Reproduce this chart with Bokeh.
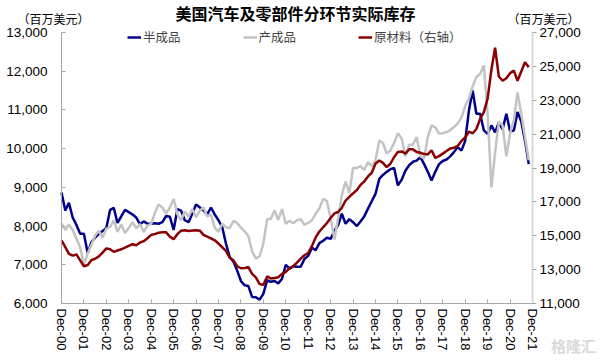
import pandas as pd
from bokeh.plotting import figure
from bokeh.models import (Range1d, LinearAxis, FixedTicker, NumeralTickFormatter,
                          Label, Legend, LegendItem)
from bokeh.embed import file_html
from bokeh.resources import INLINE

# ---------------- data (bi-monthly, from Dec-2000) ----------------
start_month = "2000-12-01"
wip = [  # 半成品 (left axis, million USD)
    8870, 8400, 8600, 8220, 8030, 7800,
    7800, 7300, 7580, 7700, 7800, 7870,
    7950, 8420, 8470, 8080, 8250, 8420,
    8360, 8300, 8220, 8050, 8120, 8060,
    8060, 8070, 8060, 8100, 8260, 8240,
    7900, 8440, 8400, 8150, 8100, 8320,
    8560, 8480, 8400, 8300, 8480, 8300,
    8150, 7970, 7550, 7200, 7080, 6850,
    6580, 6470, 6450, 6170, 6160, 6100,
    6250, 6600, 6560, 6580, 6520, 6640,
    7000, 6900, 6960, 6950, 6950, 7150,
    7230, 7440, 7380, 7560, 7620, 7700,
    7670, 7880, 8020, 8320, 8060, 8180,
    8100, 8000, 8120, 8250, 8450, 8640,
    8830, 9220, 9320, 9400, 9470, 9500,
    9050, 9200, 9430, 9570, 9660, 9690,
    9780, 9600, 9400, 9180, 9400, 9600,
    9680, 9720, 9800, 9910, 10040, 9950,
    10200, 11000, 11500, 10900, 10900, 10470,
    10380, 10600, 10420, 10680, 10500, 10900,
    10450, 10470, 10950, 10700, 10200, 9600,
]
finished = [  # 产成品 (left axis)
    8060, 7900, 8040, 7900, 7680, 7450,
    7000, 7300, 7510, 7750, 7880, 7700,
    7930, 7980, 8145, 7850, 8040, 7820,
    7950, 8100, 7940, 8050, 7850, 8010,
    8060, 8350, 8560, 8480, 8320, 8480,
    8700, 8300, 8150, 8380, 8240, 8440,
    8230, 8400, 8480, 8250, 8300, 7960,
    7850, 8060, 7970, 7950, 8130, 8080,
    7960, 7860, 7740, 7350, 7160, 7220,
    7550, 8180, 8180, 8400, 8160, 8440,
    8060, 8140, 8070, 8150, 8180, 8030,
    8080, 8150, 8320, 8460, 8700, 8650,
    8200, 7650, 8200, 8800, 9150, 8850,
    9500, 9500, 9550, 9450, 9650, 9550,
    9700, 10210, 10150, 9880, 9950, 10150,
    10400, 10260, 9800, 10100, 10100, 10300,
    9800, 9750, 10300, 10600, 10550, 10390,
    10400, 10430, 10480, 10560, 10650, 10800,
    11100, 11300, 11600, 11850, 11930, 12150,
    10900, 9000, 9900, 10700, 10600, 9800,
    10400, 10750, 11450, 10900, 10300, 9700,
]
raw = [  # 原材料 (right axis)
    14720, 14330, 13930, 13830, 13900, 13550,
    13200, 13270, 13560, 13640, 13780, 14000,
    14250, 14200, 14050, 14130, 14200, 14300,
    14400, 14500, 14440, 14600, 14680, 14850,
    15050, 15100, 15180, 15200, 15200, 14950,
    14800, 15100, 15300, 15330, 15280, 15310,
    15320, 15300, 15050, 14950, 14850, 14730,
    14540, 14320, 14100, 13700, 13550, 13200,
    13080, 13100, 13150, 12750, 12540, 12150,
    12100, 12600, 12480, 12500, 12550, 12750,
    12870, 13080, 13200, 13420, 13650, 13850,
    13980, 14400, 14900, 15250, 15500, 15750,
    16050, 16320, 16400, 16650, 17080, 17300,
    17500, 17700, 18000, 18200, 18500, 18720,
    19250, 19440, 19300, 19050, 19250, 19650,
    19950, 19980, 19850, 20100, 20100, 19950,
    19900, 19820, 19800, 20050, 19600, 19700,
    19850, 20000, 20150, 20200, 20300, 20600,
    20800, 21150, 21050, 21300, 21900, 22300,
    23100, 24800, 26100, 24400, 24150, 24300,
    24600, 24750, 24150, 24700, 25250, 24950,
]
tick_years = list(range(2000, 2022))
tick_labels = ["Dec-%02d" % (y % 100) for y in tick_years]
left_ticks = [6000, 7000, 8000, 9000, 10000, 11000, 12000, 13000]
right_ticks = [11000, 13000, 15000, 17000, 19000, 21000, 23000, 25000, 27000]
series_names = ["半成品", "产成品", "原材料（右轴）"]
title_text = "美国汽车及零部件分环节实际库存"
unit_text = "（百万美元）"
watermark_text = "格隆汇"

dates = pd.date_range(start_month, periods=len(wip), freq="2MS")
tick_ms = [pd.Timestamp("%d-12-01" % y).value / 1e6 for y in tick_years]

# ---------------- layout (pixels) ----------------
W, H = 602, 361
PL, PR, PT, PB = 61, 532, 32, 303      # plot area edges inside the canvas

def pad_range(lo, hi, lo_px, hi_px, span_px):
    per = (hi - lo) / span_px
    return Range1d(lo - lo_px * per, hi + hi_px * per)

x_rng = pad_range(tick_ms[0], tick_ms[-1], PL, W - PR, PR - PL)
y_rng = pad_range(left_ticks[0], left_ticks[-1], H - PB, PT, PB - PT)
yr_rng = pad_range(right_ticks[0], right_ticks[-1], H - PB, PT, PB - PT)

CJK = "Noto Sans CJK SC"
NUM = "Liberation Sans"

p = figure(width=W, height=H, output_backend="svg", toolbar_location=None,
           x_axis_type="datetime", x_range=x_rng, y_range=y_rng,
           min_border=0, min_border_left=0, min_border_right=0,
           min_border_top=0, min_border_bottom=0)
p.extra_y_ranges = {"right": yr_rng}
p.outline_line_color = None
p.xgrid.visible = False
p.ygrid.visible = False
p.background_fill_color = "white"
p.border_fill_color = "white"

BLUE = "#00008b"
GREY = "#c3c3c3"
RED = "#8b0000"

r_wip = p.line(dates, wip, line_color=BLUE, line_width=2.5)
r_fin = p.line(dates, finished, line_color=GREY, line_width=2.5)
r_raw = p.line(dates, raw, line_color=RED, line_width=2.5, y_range_name="right")

# axes (drawn at fixed positions inside the full-canvas frame)
xa = p.xaxis[0]
xa.fixed_location = left_ticks[0]
xa.bounds = (tick_ms[0], tick_ms[-1])
xa.ticker = FixedTicker(ticks=tick_ms)
xa.major_label_overrides = {t: l for t, l in zip(tick_ms, tick_labels)}
xa.major_label_orientation = "vertical"
xa.major_tick_in = 4
xa.major_tick_out = 0
xa.minor_tick_line_color = None
xa.axis_line_color = "#a6a6a6"
xa.major_tick_line_color = "#a6a6a6"
xa.major_label_standoff = 5
xa.major_label_text_font = NUM
xa.major_label_text_font_size = "13px"
xa.major_label_text_color = "black"

ya = p.yaxis[0]
ya.fixed_location = tick_ms[0]
ya.bounds = (left_ticks[0], left_ticks[-1])
ya.ticker = FixedTicker(ticks=left_ticks)
ya.formatter = NumeralTickFormatter(format="0,0")
ya.major_tick_in = 4
ya.major_tick_out = 0
ya.minor_tick_line_color = None
ya.axis_line_color = "#a6a6a6"
ya.major_tick_line_color = "#a6a6a6"
ya.major_label_standoff = 14
ya.major_label_text_font = NUM
ya.major_label_text_font_size = "13.5px"
ya.major_label_text_color = "black"

ra = LinearAxis(y_range_name="right", ticker=FixedTicker(ticks=right_ticks),
                formatter=NumeralTickFormatter(format="0,0"))
ra.fixed_location = tick_ms[-1]
ra.bounds = (right_ticks[0], right_ticks[-1])
ra.major_tick_in = 0
ra.major_tick_out = 4
ra.minor_tick_line_color = None
ra.axis_line_color = "#d9d9d9"
ra.axis_line_width = 2
ra.major_tick_line_color = "#a6a6a6"
ra.major_label_standoff = 3
ra.major_label_text_font = NUM
ra.major_label_text_font_size = "13.5px"
ra.major_label_text_color = "black"
p.add_layout(ra, "right")

# legend
legend = Legend(items=[LegendItem(label=series_names[0], renderers=[r_wip]),
                       LegendItem(label=series_names[1], renderers=[r_fin]),
                       LegendItem(label=series_names[2], renderers=[r_raw])],
                orientation="horizontal", location=(127, H - 46),
                glyph_width=14, glyph_height=14, label_standoff=2, spacing=62,
                padding=0, margin=0, label_height=14,
                border_line_color=None, background_fill_alpha=0,
                label_text_font=CJK, label_text_font_size="12.5px")
p.add_layout(legend, "center")

# title, units and watermark
p.add_layout(Label(x=295, y=H - 12, x_units="screen", y_units="screen", text=title_text,
                   text_font=CJK, text_font_size="16px", text_font_style="bold",
                   text_align="center", text_baseline="middle", text_color="black"))
for ux in (53, 543):
    p.add_layout(Label(x=ux, y=H - 18, x_units="screen", y_units="screen", text=unit_text,
                       text_font=CJK, text_font_size="12px",
                       text_align="center", text_baseline="middle", text_color="black"))
p.add_layout(Label(x=573, y=H - 345, x_units="screen", y_units="screen", text=watermark_text,
                   text_font=CJK, text_font_size="15px", text_font_style="bold",
                   text_align="center", text_baseline="middle", text_color="#d9d9d9"))

open("out.html", "w").write(file_html(p, INLINE))
